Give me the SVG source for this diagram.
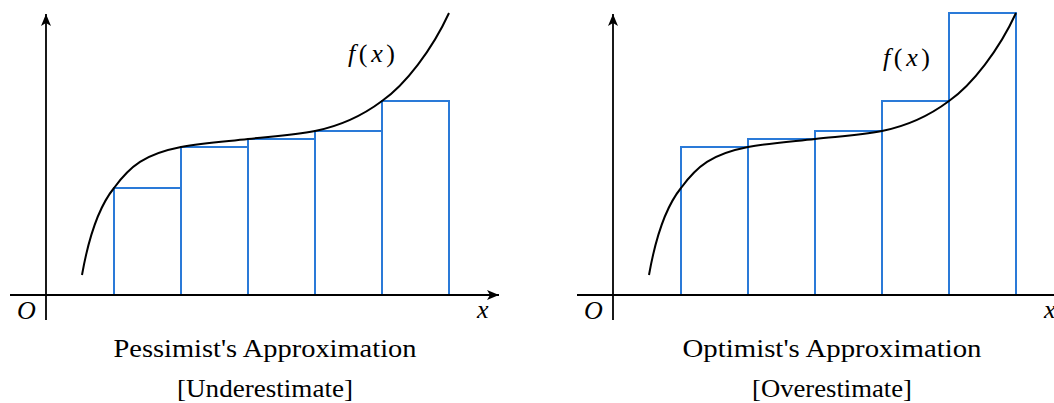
<svg xmlns="http://www.w3.org/2000/svg" width="1054" height="403" viewBox="0 0 1054 403">
<style>
.ax{stroke:#000;stroke-width:1.8;fill:none}
.cv{stroke:#000;stroke-width:2;fill:none}
.rc{stroke:#2a7ad8;stroke-width:2;fill:none}
.m{font-family:"Liberation Serif","DejaVu Serif",serif;font-style:italic;font-size:26px;fill:#000}
.r{font-family:"Liberation Serif","DejaVu Serif",serif;font-size:26px;fill:#000}
.cap{font-family:"Liberation Serif","DejaVu Serif",serif;font-size:25px;fill:#000;text-anchor:middle}
</style>
<defs>
<marker id="arr" markerWidth="14" markerHeight="12" refX="12" refY="6" orient="auto" markerUnits="userSpaceOnUse">
<path d="M0,1 L12,6 L0,11 L3,6 Z" fill="#000"/>
</marker>
<path id="curve" d="M82,275 C85,258 93,214 114,188 C130,166 145,154 181,147 C203.3,143 225.7,141.5 248,139 C270.3,136.5 292.7,135.5 315,131 C337.3,126.5 359.7,117.7 382,101 C405,85 432,50 449,13"/>
</defs>

<g id="pessimist">
<g id="pessimist-rects">
<rect class="rc" x="114" y="188" width="67" height="107"/>
<rect class="rc" x="181" y="147" width="67" height="148"/>
<rect class="rc" x="248" y="139" width="67" height="156"/>
<rect class="rc" x="315" y="131" width="67" height="164"/>
<rect class="rc" x="382" y="101" width="67" height="194"/>
</g>
<g id="pessimist-axes">
<line class="ax" x1="10" y1="295" x2="499" y2="295" marker-end="url(#arr)"/>
<line class="ax" x1="46" y1="320" x2="46" y2="14" marker-end="url(#arr)"/>
</g>
<use href="#curve" class="cv"/>
<text class="m" x="17" y="319">O</text>
<text class="m" x="477" y="318">x</text>
<text x="348" y="62" class="r" textLength="47" lengthAdjust="spacing"><tspan font-style="italic">f</tspan>(<tspan font-style="italic">x</tspan>)</text>
<text class="cap" x="265" y="357" textLength="303" lengthAdjust="spacingAndGlyphs">Pessimist's Approximation</text>
<text class="cap" x="265" y="397" textLength="176" lengthAdjust="spacingAndGlyphs">[Underestimate]</text>
</g>

<g id="optimist">
<g id="optimist-rects">
<rect class="rc" x="681" y="147" width="67" height="148"/>
<rect class="rc" x="748" y="139" width="67" height="156"/>
<rect class="rc" x="815" y="131" width="67" height="164"/>
<rect class="rc" x="882" y="101" width="67" height="194"/>
<rect class="rc" x="949" y="13" width="67" height="282"/>
</g>
<g id="optimist-axes">
<line class="ax" x1="577" y1="295" x2="1066" y2="295" marker-end="url(#arr)"/>
<line class="ax" x1="613" y1="320" x2="613" y2="14" marker-end="url(#arr)"/>
</g>
<use href="#curve" class="cv" transform="translate(567,0)"/>
<text class="m" x="584" y="319">O</text>
<text class="m" x="1044" y="318">x</text>
<text x="883" y="66" class="r" textLength="47" lengthAdjust="spacing"><tspan font-style="italic">f</tspan>(<tspan font-style="italic">x</tspan>)</text>
<text class="cap" x="832" y="357" textLength="299" lengthAdjust="spacingAndGlyphs">Optimist's Approximation</text>
<text class="cap" x="832" y="397" textLength="160" lengthAdjust="spacingAndGlyphs">[Overestimate]</text>
</g>
</svg>
